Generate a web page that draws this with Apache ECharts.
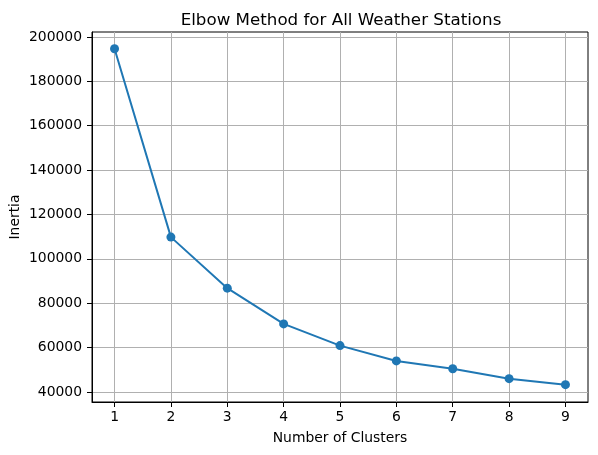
<!DOCTYPE html>
<html>
<head>
<meta charset="utf-8">
<script src="https://cdn.jsdelivr.net/npm/echarts@6/dist/echarts.min.js"></script>
<style>
  html, body { margin: 0; padding: 0; background: #fff; }
  #chart { width: 598px; height: 455px; }
</style>
</head>
<body>
<div id="chart"></div>
<script>
// k values and their inertia
const clusters = [1, 2, 3, 4, 5, 6, 7, 8, 9];
const inertia = [194700, 109800, 86800, 70700, 60900, 54000, 50500, 46000, 43300];
const xTicks = [1, 2, 3, 4, 5, 6, 7, 8, 9];
const yTicks = [40000, 60000, 80000, 100000, 120000, 140000, 160000, 180000, 200000];

const font = "DejaVu Sans";
const chart = echarts.init(document.getElementById("chart"));

chart.setOption({
  animation: false,
  title: {
    text: "Elbow Method for All Weather Stations",
    left: 336,
    top: 7,
    textAlign: "center",
    textStyle: { fontFamily: font, fontSize: 16.7, fontWeight: "normal", color: "#000" }
  },
  grid: {
    left: 92, top: 32, right: 10, bottom: 53,
    containLabel: false, outerBoundsMode: "none",
    show: true, borderColor: "#000", borderWidth: 1
  },
  xAxis: {
    type: "value",
    min: 0.6,
    max: 9.4,
    name: "Number of Clusters",
    nameLocation: "middle",
    nameGap: 29,
    nameMoveOverlap: false,
    nameTextStyle: { fontFamily: font, fontSize: 13.9, color: "#000" },
    axisLine: { show: true, onZero: false, lineStyle: { color: "#000", width: 1 } },
    axisTick: { show: true, length: 5, customValues: xTicks, lineStyle: { color: "#000" } },
    axisLabel: { customValues: xTicks, margin: 8, fontFamily: font, fontSize: 13.9, color: "#000" },
    splitLine: { show: true, lineStyle: { color: "#b0b0b0", width: 1 } }
  },
  yAxis: {
    type: "value",
    min: 35490,
    max: 202250,
    name: "Inertia",
    nameLocation: "middle",
    nameGap: 70,
    nameMoveOverlap: false,
    nameRotate: 90,
    nameTextStyle: { fontFamily: font, fontSize: 13.9, color: "#000" },
    axisLine: { show: true, onZero: false, lineStyle: { color: "#000", width: 1 } },
    axisTick: { show: true, length: 5, customValues: yTicks, lineStyle: { color: "#000" } },
    axisLabel: {
      customValues: yTicks, margin: 10, fontFamily: font, fontSize: 13.9, color: "#000",
      formatter: v => String(v)
    },
    splitLine: { show: true, lineStyle: { color: "#b0b0b0", width: 1 } }
  },
  series: [{
    type: "line",
    data: clusters.map((k, i) => [k, inertia[i]]),
    symbol: "circle",
    symbolSize: 9,
    showSymbol: true,
    lineStyle: { color: "#1f77b4", width: 2 },
    itemStyle: { color: "#1f77b4" }
  }]
});
</script>
</body>
</html>
